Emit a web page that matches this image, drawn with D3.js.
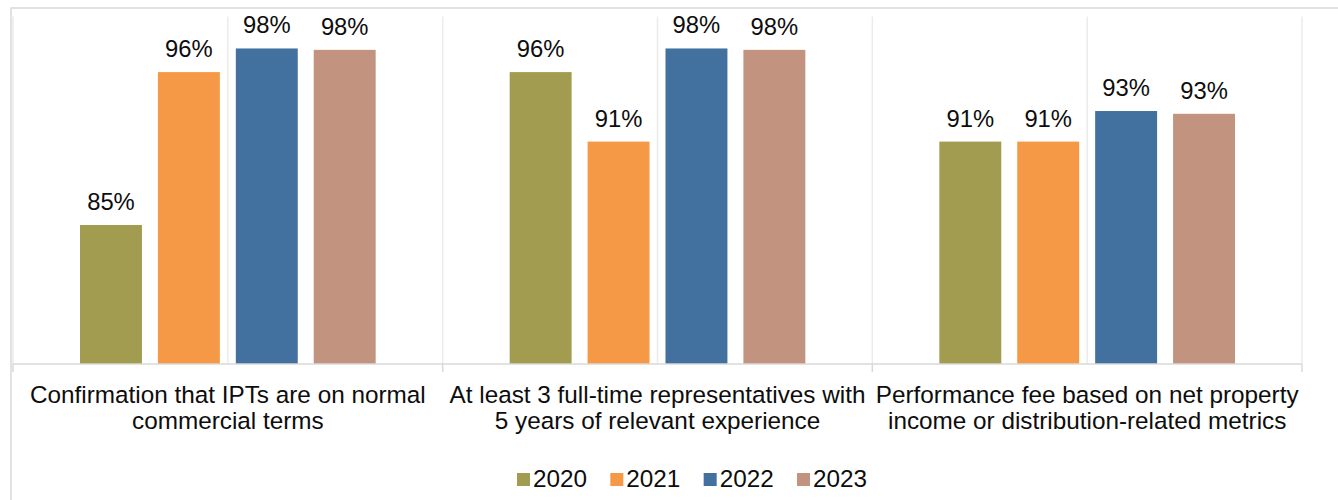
<!DOCTYPE html>
<html>
<head>
<meta charset="utf-8">
<script src="https://cdn.jsdelivr.net/npm/d3@7"></script>
<style>
  body { margin: 0; background: #fff; }
  text { font-family: "Liberation Sans", Arial, sans-serif; fill: #0d0d0d; }
</style>
</head>
<body>
<div id="chart"></div>
<script>
// data
var categories = [
  "Confirmation that IPTs are on normal\ncommercial terms",
  "At least 3 full-time representatives with\n5 years of relevant experience",
  "Performance fee based on net property\nincome or distribution-related metrics"
];
var years = ["2020", "2021", "2022", "2023"];
var v2020 = [85, 96, 91];
var v2021 = [96, 91, 91];
var v2022 = [97.7, 97.7, 93.2];
var v2023 = [97.6, 97.6, 93.0];
var yDomain = [75, 100];

var colors = ["#A29C50", "#F59946", "#4271A0", "#C29480"];

var series = [v2020, v2021, v2022, v2023];
var data = categories.map(function(c, i) {
  return { cat: c, vals: years.map(function(y, j) { return { year: y, value: series[j][i] }; }) };
});

//set the dimensions
var W = 1338, H = 500;
var plot = { left: 13, right: 1302, top: 16.5, bottom: 364 };

var svg = d3.select("#chart")
  .append("svg")
    .attr("width", W)
    .attr("height", H);

// chart area border (runs off the picture right and bottom)
svg.append("rect")
  .attr("x", 11).attr("y", 8)
  .attr("width", 1400).attr("height", 600)
  .attr("fill", "none")
  .attr("stroke", "#d9d9d9")
  .attr("stroke-width", 1.5);

//scales
var x0 = d3.scaleBand()
  .domain(categories)
  .range([plot.left, plot.right]);

var x1 = d3.scaleBand()
  .domain(years)
  .range([0, x0.bandwidth()])
  .paddingInner(0.205)
  .paddingOuter(0.86);

var y = d3.scaleLinear()
  .domain(yDomain)
  .range([plot.bottom, plot.top]);

var color = d3.scaleOrdinal().domain(years).range(colors);

// vertical gridlines at group edges and centers
var gridX = [];
categories.forEach(function(c) {
  gridX.push(x0(c));
  gridX.push(x0(c) + x0.bandwidth() / 2);
});
gridX.push(x0.range()[1]);

svg.append("g")
  .selectAll("line")
  .data(gridX)
  .enter()
  .append("line")
    .attr("x1", d => d).attr("x2", d => d)
    .attr("y1", plot.top).attr("y2", plot.bottom)
    .attr("stroke", "#ebebeb")
    .attr("stroke-width", 1.5);

//bars
var groups = svg.append("g")
  .selectAll("g")
  .data(data)
  .enter()
  .append("g")
    .attr("transform", d => "translate(" + x0(d.cat) + ",0)");

groups.selectAll("rect")
  .data(d => d.vals)
  .enter()
  .append("rect")
    .attr("x", d => x1(d.year))
    .attr("y", d => y(d.value))
    .attr("width", x1.bandwidth())
    .attr("height", d => y(yDomain[0]) - y(d.value))
    .attr("fill", d => color(d.year));

// value labels
var fmt = d3.format(".0f");
groups.selectAll("text")
  .data(d => d.vals)
  .enter()
  .append("text")
    .attr("x", d => x1(d.year) + x1.bandwidth() / 2)
    .attr("y", d => y(d.value) - 15)
    .attr("text-anchor", "middle")
    .style("font-size", "23.8px")
    .text(d => fmt(d.value) + "%");

// x axis
var xAxis = svg.append("g")
  .attr("transform", "translate(0," + plot.bottom + ")")
  .call(d3.axisBottom(x0).tickSize(0));
xAxis.select(".domain").remove();

xAxis.append("line")
  .attr("x1", plot.left).attr("x2", plot.right)
  .attr("stroke", "#d9d9d9")
  .attr("stroke-width", 1.5);

xAxis.selectAll(".edge")
  .data(categories.map(c => x0(c)).concat([x0.range()[1]]))
  .enter()
  .append("line")
    .attr("class", "edge")
    .attr("x1", d => d).attr("x2", d => d)
    .attr("y1", 0).attr("y2", 8)
    .attr("stroke", "#d9d9d9")
    .attr("stroke-width", 1.5);

xAxis.selectAll(".tick text")
  .attr("y", null).attr("dy", null)
  .attr("fill", "#0d0d0d")
  .style("font-size", "24.3px")
  .each(function(d) {
    var t = d3.select(this);
    var lines = d.split("\n");
    t.text(null);
    lines.forEach(function(l, i) {
      t.append("tspan")
        .attr("x", 0)
        .attr("y", 39 + i * 26.3)
        .text(l);
    });
  });

// legend
var lx = d3.scalePoint().domain(years).range([517, 797]);
var legend = svg.append("g")
  .selectAll("g")
  .data(years)
  .enter()
  .append("g")
    .attr("transform", d => "translate(" + lx(d) + ",473)");

legend.append("rect")
  .attr("width", 13).attr("height", 13)
  .attr("fill", d => color(d));

legend.append("text")
  .attr("x", 16).attr("y", 14)
  .style("font-size", "24.3px")
  .text(d => d);
</script>
</body>
</html>
